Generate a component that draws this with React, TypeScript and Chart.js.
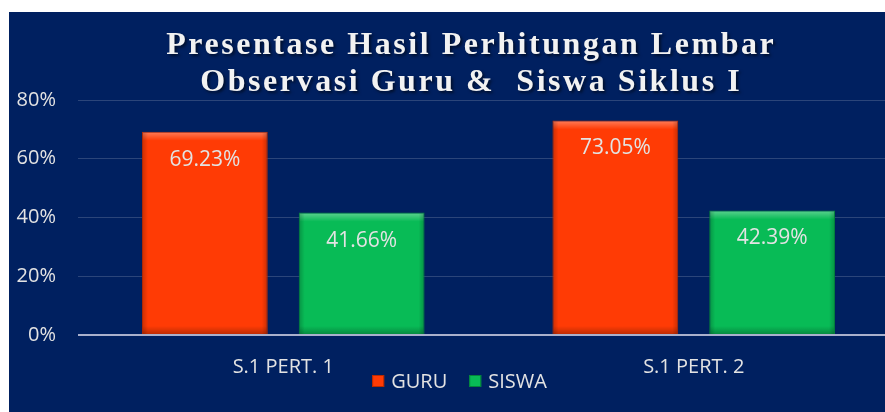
import React, { useEffect, useRef } from "react";
import { Chart, registerables } from "chart.js";

Chart.register(...registerables);

const categories = ["S.1 PERT. 1", "S.1 PERT. 2"];
const seriesNames = ["GURU", "SISWA"];
const guruValues = [69.23, 73.05];
const siswaValues = [41.66, 42.39];
const yTickValues = [0, 20, 40, 60, 80];
const titleLines = ["Presentase Hasil Perhitungan Lembar", "Observasi Guru &  Siswa Siklus I"];

const NAVY = "#002060";
const COLORS = ["#ff3b05", "#08bb56"];
const BORDERS = ["#b82a00", "#04833a"];
const TEXT = "#e3e3e3";
const SANS = "'Open Sans', sans-serif";

const titlePlugin = {
  id: "customTitle",
  afterDraw(chart: any) {
    const ctx = chart.ctx;
    ctx.save();
    ctx.font = "bold 32px 'Liberation Serif', 'Times New Roman', serif";
    ctx.fillStyle = "#f2f2f2";
    ctx.textAlign = "center";
    ctx.textBaseline = "alphabetic";
    ctx.shadowColor = "rgba(0,0,0,0.55)";
    ctx.shadowOffsetX = 2;
    ctx.shadowOffsetY = 2;
    ctx.shadowBlur = 3;
    const w0 = ctx.measureText(titleLines[0]).width;
    const spacing = Math.max(0, (610 - w0) / titleLines[0].length);
    (ctx as any).letterSpacing = spacing.toFixed(2) + "px";
    const cx = 461 + spacing / 2;
    ctx.fillText(titleLines[0], cx, 42);
    ctx.fillText(titleLines[1], cx, 79);
    ctx.restore();
  },
};

const bevelAndLabelPlugin = {
  id: "bevelLabels",
  afterDatasetsDraw(chart: any) {
    const ctx = chart.ctx;
    chart.data.datasets.forEach((ds: any, di: number) => {
      const meta = chart.getDatasetMeta(di);
      meta.data.forEach((bar: any, i: number) => {
        const { x, y, base, width } = bar.getProps(["x", "y", "base", "width"], true);
        const left = x - width / 2;
        const right = x + width / 2;
        const h = base - y;
        ctx.save();
        let g = ctx.createLinearGradient(0, y, 0, y + 9);
        g.addColorStop(0, "rgba(255,255,255,0.35)");
        g.addColorStop(1, "rgba(255,255,255,0)");
        ctx.fillStyle = g;
        ctx.fillRect(left + 1, y + 1, width - 2, 9);
        g = ctx.createLinearGradient(0, base - 8, 0, base);
        g.addColorStop(0, "rgba(0,0,0,0)");
        g.addColorStop(1, "rgba(0,0,0,0.25)");
        ctx.fillStyle = g;
        ctx.fillRect(left + 1, base - 8, width - 2, 8);
        g = ctx.createLinearGradient(left, 0, left + 6, 0);
        g.addColorStop(0, "rgba(0,0,0,0.22)");
        g.addColorStop(1, "rgba(0,0,0,0)");
        ctx.fillStyle = g;
        ctx.fillRect(left + 1, y + 1, 6, h - 1);
        g = ctx.createLinearGradient(right - 6, 0, right, 0);
        g.addColorStop(0, "rgba(0,0,0,0)");
        g.addColorStop(1, "rgba(0,0,0,0.22)");
        ctx.fillStyle = g;
        ctx.fillRect(right - 7, y + 1, 6, h - 1);
        ctx.font = "21px " + SANS;
        ctx.fillStyle = TEXT;
        ctx.textAlign = "center";
        ctx.textBaseline = "middle";
        ctx.fillText(ds.data[i].toFixed(2) + "%", x, y + 28);
        ctx.restore();
      });
    });
  },
};

const legendPlugin = {
  id: "customLegend",
  afterDraw(chart: any) {
    const ctx = chart.ctx;
    ctx.save();
    ctx.font = "20px " + SANS;
    ctx.textBaseline = "middle";
    ctx.textAlign = "left";
    const sq = 12;
    const gapText = 7;
    const gapItem = 22;
    const widths = seriesNames.map((n) => ctx.measureText(n).width);
    let total = 0;
    widths.forEach((w, i) => {
      total += sq + gapText + w + (i < widths.length - 1 ? gapItem : 0);
    });
    let x = chart.width / 2 + 5 - total / 2;
    const cy = 369;
    seriesNames.forEach((n, i) => {
      ctx.fillStyle = COLORS[i];
      ctx.fillRect(x, cy - sq / 2, sq, sq);
      ctx.strokeStyle = BORDERS[i];
      ctx.lineWidth = 1;
      ctx.strokeRect(x + 0.5, cy - sq / 2 + 0.5, sq - 1, sq - 1);
      x += sq + gapText;
      ctx.fillStyle = TEXT;
      ctx.fillText(n, x, cy + 1);
      x += widths[i] + gapItem;
    });
    ctx.restore();
  },
};

export default function App() {
  const ref = useRef<HTMLCanvasElement | null>(null);
  useEffect(() => {
    if (!ref.current) return;
    const chart = new Chart(ref.current, {
      type: "bar",
      data: {
        labels: categories,
        datasets: [
          {
            label: seriesNames[0],
            data: guruValues,
            backgroundColor: COLORS[0],
            borderColor: BORDERS[0],
            borderWidth: 1,
            categoryPercentage: 0.764,
            barPercentage: 0.8025,
          },
          {
            label: seriesNames[1],
            data: siswaValues,
            backgroundColor: COLORS[1],
            borderColor: BORDERS[1],
            borderWidth: 1,
            categoryPercentage: 0.764,
            barPercentage: 0.8025,
          },
        ],
      },
      options: {
        responsive: false,
        animation: false,
        devicePixelRatio: 1,
        layout: { padding: { top: 88, right: 1, left: 0, bottom: 0 } },
        plugins: {
          legend: { display: false },
          title: { display: false },
          tooltip: { enabled: false },
        },
        scales: {
          x: {
            grid: { display: false, drawTicks: false },
            border: { display: false },
            ticks: { color: TEXT, font: { family: "'Open Sans'", size: 20 }, padding: 20 },
            afterFit: (s: any) => {
              s.height = 77;
            },
          },
          y: {
            min: 0,
            max: 80,
            afterBuildTicks: (s: any) => {
              s.ticks = yTickValues.map((v) => ({ value: v }));
            },
            grid: {
              drawTicks: false,
              color: (c: any) => (c.tick && c.tick.value === 0 ? "#a9b0cc" : "rgba(255,255,255,0.17)"),
              lineWidth: (c: any) => (c.tick && c.tick.value === 0 ? 2 : 1),
            },
            border: { display: false },
            ticks: {
              color: TEXT,
              font: { family: "'Open Sans'", size: 20 },
              padding: 22,
              callback: (v: any) => v + "%",
            },
            afterFit: (s: any) => {
              s.width = 69;
            },
          },
        },
      },
      plugins: [bevelAndLabelPlugin, titlePlugin, legendPlugin],
    });
    return () => chart.destroy();
  }, []);

  return (
    <div
      style={{
        position: "absolute",
        left: 9,
        top: 12,
        width: 876,
        height: 400,
        overflow: "hidden",
        background: NAVY,
      }}
    >
      <canvas ref={ref} width={891} height={400} style={{ display: "block" }} />
    </div>
  );
}
